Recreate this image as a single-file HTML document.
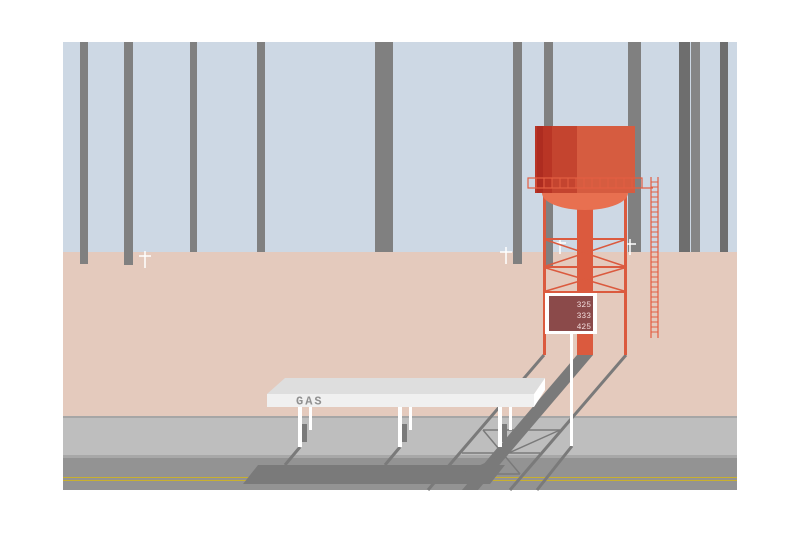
<!DOCTYPE html>
<html><head><style>html,body{margin:0;padding:0;background:#fff;}svg{display:block}</style></head>
<body>
<svg width="800" height="533" viewBox="0 0 800 533" xmlns="http://www.w3.org/2000/svg">
<rect x="63" y="42" width="674" height="210" fill="#cdd8e4"/>
<rect x="63" y="252" width="674" height="165" fill="#e4cabd"/>
<rect x="63" y="416" width="674" height="2" fill="#a6a6a6"/>
<rect x="63" y="418" width="674" height="37" fill="#bebebe"/>
<rect x="63" y="455" width="674" height="3" fill="#a8a8a8"/>
<rect x="63" y="458" width="674" height="32" fill="#939393"/>
<rect x="63" y="477" width="674" height="1" fill="#c8b030"/>
<rect x="63" y="480" width="674" height="1" fill="#c8b030"/>
<!-- poles -->
<g fill="#808080">
<rect x="80" y="42" width="8" height="222"/>
<rect x="124" y="42" width="9" height="223"/>
<rect x="190" y="42" width="7" height="210"/>
<rect x="257" y="42" width="8" height="210"/>
<rect x="375" y="42" width="18" height="210"/>
<rect x="513" y="42" width="9" height="222"/>
<rect x="544" y="42" width="9" height="226"/>
<rect x="628" y="42" width="13" height="210"/>
<rect x="691" y="42" width="9" height="210" fill="#858585"/>
<rect x="679" y="42" width="11" height="210" fill="#6e6e6e"/>
<rect x="720" y="42" width="8" height="210" fill="#6e6e6e"/>
</g>
<!-- crosses -->
<g stroke="#fff" stroke-width="1.5">
<line x1="145" y1="251" x2="145" y2="268"/><line x1="139" y1="256" x2="151" y2="256"/>
<line x1="506" y1="247" x2="506" y2="264"/><line x1="500" y1="252" x2="512" y2="252"/>
<line x1="560" y1="238" x2="560" y2="254"/><line x1="555" y1="243" x2="566" y2="243"/>
<line x1="630" y1="239" x2="630" y2="255"/><line x1="625" y1="244" x2="636" y2="244"/>
</g>
<!-- shadows -->
<g fill="#7a7a7a">
<polygon points="577,355 593,355 478,490 462,490"/>
<polygon points="243,484 258,465 505,465 490,484"/>
</g>
<g stroke="#7a7a7a" stroke-width="3">
<line x1="544" y1="355" x2="428" y2="490"/>
<line x1="626" y1="355" x2="510" y2="490"/>
<line x1="572" y1="446" x2="537" y2="490"/>
<line x1="300" y1="447" x2="285" y2="465"/>
<line x1="400" y1="447" x2="385" y2="465"/>
<line x1="500" y1="447" x2="485" y2="465"/>
</g>
<g stroke="#7a7a7a" stroke-width="1.5" fill="none">
<line x1="483" y1="430" x2="560" y2="430"/>
<line x1="462" y1="453" x2="540" y2="453"/>
<line x1="458" y1="474" x2="520" y2="474"/>
<line x1="483" y1="430" x2="520" y2="474"/>
<line x1="560" y1="430" x2="462" y2="474"/>
</g>
<rect x="302" y="424" width="5" height="18" fill="#7a7a7a"/>
<rect x="402" y="424" width="5" height="18" fill="#7a7a7a"/>
<rect x="502" y="424" width="5" height="18" fill="#7a7a7a"/>
<!-- canopy posts -->
<g fill="#fff">
<rect x="298" y="407" width="4" height="40"/>
<rect x="398" y="407" width="4" height="40"/>
<rect x="498" y="407" width="4" height="40"/>
<rect x="309" y="407" width="3" height="23"/>
<rect x="409" y="407" width="3" height="23"/>
<rect x="509" y="407" width="3" height="23"/>
</g>
<polygon points="267,394 285,378 545,378 534,394" fill="#dedede"/>
<rect x="267" y="394" width="267" height="13" fill="#f0f0f0"/>
<polygon points="534,394 545,378 545,390 534,407" fill="#fff"/>
<text x="296" y="404.5" font-family="Liberation Mono, monospace" font-weight="bold" font-size="12" letter-spacing="2" fill="#909090">GAS</text>
<!-- tower -->
<g fill="#db5a3e">
<rect x="543" y="188" width="3" height="167"/>
<rect x="624" y="188" width="3" height="167"/>
<rect x="577" y="200" width="16" height="155"/>
<rect x="543" y="238" width="84" height="2"/>
<rect x="543" y="266" width="84" height="2"/>
<rect x="543" y="291" width="84" height="2"/>
</g>
<g stroke="#db5a3e" stroke-width="1.5">
<line x1="546" y1="240" x2="624" y2="266"/><line x1="624" y1="240" x2="546" y2="266"/>
<line x1="546" y1="268" x2="624" y2="291"/><line x1="624" y1="268" x2="546" y2="291"/>
</g>
<ellipse cx="585" cy="193" rx="43" ry="17" fill="#e87050"/>
<rect x="535" y="126" width="100" height="67" fill="#d65c40"/>
<rect x="535" y="126" width="42" height="67" fill="#c4442f"/>
<rect x="535" y="126" width="17" height="67" fill="#b93525"/>
<rect x="537" y="126" width="6" height="67" fill="#ae2c20"/>
<g stroke="#e35e42" stroke-width="1.2" fill="none">
<rect x="528" y="178" width="114" height="10"/>
<line x1="642" y1="188" x2="653" y2="188"/>
<line x1="651" y1="177" x2="651" y2="338"/><line x1="658" y1="177" x2="658" y2="338"/>
</g>
<g stroke="#e35e42" stroke-width="1">
<path d="M536 178v10M544 178v10M552 178v10M560 178v10M568 178v10M576 178v10M584 178v10M592 178v10M600 178v10M608 178v10M616 178v10M624 178v10M632 178v10"/>
<path d="M651 182h7M651 187h7M651 192h7M651 197h7M651 202h7M651 207h7M651 212h7M651 217h7M651 222h7M651 227h7M651 232h7M651 237h7M651 242h7M651 247h7M651 252h7M651 257h7M651 262h7M651 267h7M651 272h7M651 277h7M651 282h7M651 287h7M651 292h7M651 297h7M651 302h7M651 307h7M651 312h7M651 317h7M651 322h7M651 327h7M651 332h7"/>
</g>
<!-- sign -->
<rect x="570" y="334" width="3" height="112" fill="#fff"/>
<rect x="545" y="293" width="52" height="41" fill="#fff"/>
<rect x="549" y="296" width="44" height="35" fill="#8b4a4a"/>
<g font-family="Liberation Mono, monospace" font-size="8" fill="#f0dada" text-anchor="end">
<text x="591" y="307">325</text><text x="591" y="318">333</text><text x="591" y="329">425</text>
</g>
</svg>
</body></html>
